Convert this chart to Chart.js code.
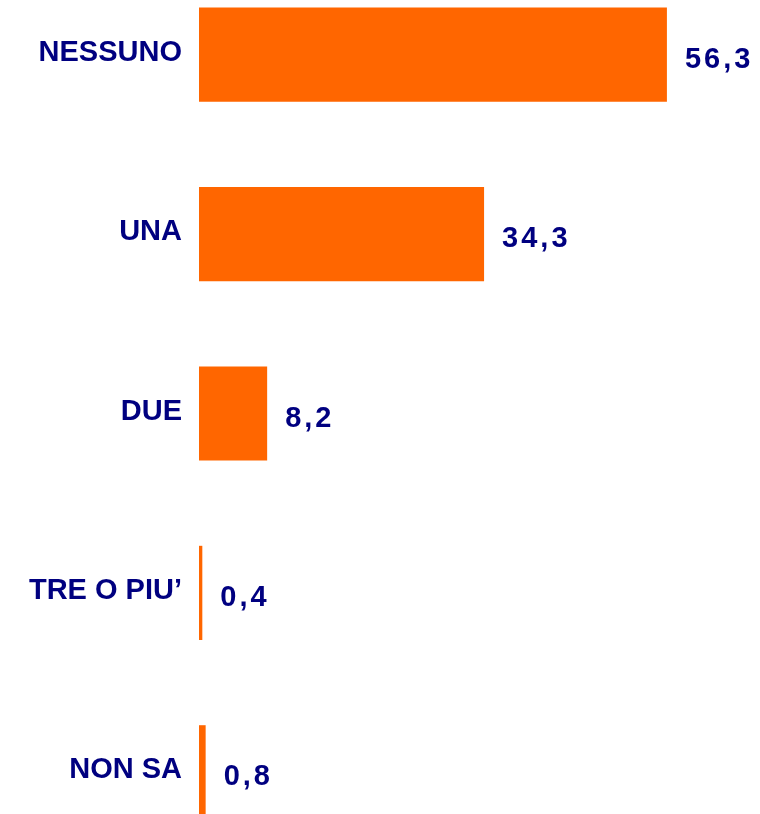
<!DOCTYPE html>
<html>
<head>
<meta charset="utf-8">
<script src="https://cdn.jsdelivr.net/npm/chart.js@4/dist/chart.umd.min.js"></script>
<style>
  html, body { margin: 0; padding: 0; background: #ffffff; overflow: hidden; width: 760px; height: 814px; }
  #c { display: block; width: 760px; height: 814px; }
</style>
</head>
<body>
<canvas id="c" width="760" height="814"></canvas>
<script>
const categories = ["NESSUNO", "UNA", "DUE", "TRE O PIU\u2019", "NON SA"];
const values = [56.3, 34.3, 8.2, 0.4, 0.8];

const BAR_COLOR = "#FF6600";
const TEXT_COLOR = "#000080";

// The reference crops the plot: the category band runs from y=-35 to y=862.
const AREA_TOP = -35;
const AREA_BOTTOM = 862;

const extendArea = {
  id: "extendArea",
  afterLayout(chart) {
    const y = chart.scales.y;
    y.top = AREA_TOP;
    y.bottom = AREA_BOTTOM;
    y.height = AREA_BOTTOM - AREA_TOP;
    y.configure();
    y._labelItems = null;
    chart.chartArea.top = AREA_TOP;
    chart.chartArea.bottom = AREA_BOTTOM;
    chart.chartArea.height = AREA_BOTTOM - AREA_TOP;
  }
};

const valueLabels = {
  id: "valueLabels",
  afterDatasetsDraw(chart) {
    const ctx = chart.ctx;
    const meta = chart.getDatasetMeta(0);
    ctx.save();
    ctx.font = "bold 29px 'Liberation Sans', Arial, sans-serif";
    ctx.fillStyle = TEXT_COLOR;
    ctx.textAlign = "left";
    ctx.textBaseline = "middle";
    if ("letterSpacing" in ctx) ctx.letterSpacing = "3px";
    meta.data.forEach((el, i) => {
      const txt = values[i].toFixed(1).replace(".", ",");
      ctx.fillText(txt, el.x + 18, el.y + 5);
    });
    ctx.restore();
  }
};

new Chart(document.getElementById("c"), {
  type: "bar",
  data: {
    labels: categories,
    datasets: [{
      data: values,
      backgroundColor: BAR_COLOR,
      borderWidth: 0,
      barPercentage: 0.525,
      categoryPercentage: 1.0,
      clip: false
    }]
  },
  options: {
    indexAxis: "y",
    responsive: false,
    maintainAspectRatio: false,
    devicePixelRatio: 1,
    animation: false,
    layout: { padding: 0 },
    plugins: { legend: { display: false }, tooltip: { enabled: false } },
    scales: {
      x: { display: false, min: 0, max: 67.5 },
      y: {
        afterFit(scale) { scale.width = 199; },
        grid: { display: false, drawTicks: false },
        border: { display: false },
        ticks: {
          padding: 17,
          labelOffset: -2,
          color: TEXT_COLOR,
          font: { family: "'Liberation Sans', Arial, sans-serif", size: 29, weight: "bold" }
        }
      }
    }
  },
  plugins: [extendArea, valueLabels]
});
</script>
</body>
</html>
